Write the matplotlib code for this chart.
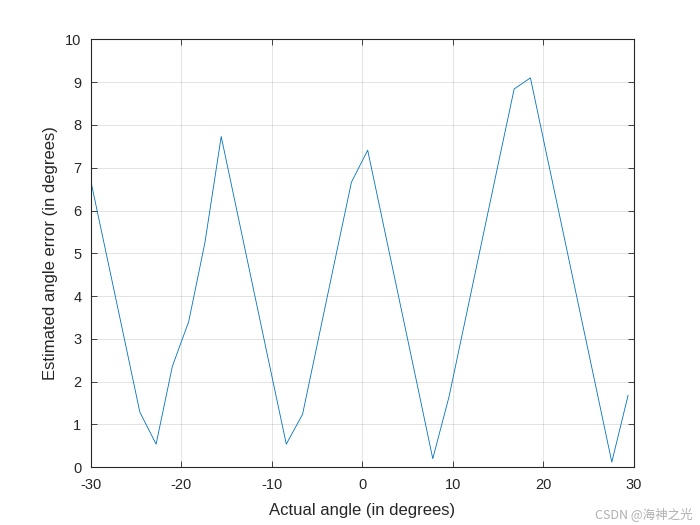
import numpy as np
import matplotlib
matplotlib.use("Agg")
import matplotlib.pyplot as plt

# actual angle grid (deg) and estimated error
angle = [-30.0, -28.2, -26.4, -24.6, -22.8, -21.0, -19.2, -17.4, -15.6, -13.8,
         -12.0, -10.2, -8.4, -6.6, -4.8, -3.0, -1.2, 0.6, 2.4, 4.2,
         6.0, 7.8, 9.6, 11.4, 13.2, 15.0, 16.8, 18.6, 20.4, 22.2,
         24.0, 25.8, 27.6, 29.4]
err = [6.67, 4.88, 3.09, 1.29, 0.54, 2.36, 3.40, 5.25, 7.73, 5.93,
       4.13, 2.33, 0.54, 1.24, 3.05, 4.86, 6.66, 7.41, 5.61, 3.81,
       2.01, 0.20, 1.65, 3.45, 5.25, 7.05, 8.84, 9.10, 7.30, 5.51,
       3.71, 1.92, 0.12, 1.68]

xticks = np.arange(-30, 31, 10)
yticks = np.arange(0, 11, 1)

plt.rcParams["font.family"] = ["Liberation Sans", "DejaVu Sans"]
plt.rcParams["axes.unicode_minus"] = False

fig = plt.figure(figsize=(7, 5.25), dpi=100)
ax = fig.add_axes([0.13, 0.11, 0.775, 0.815])
ax.plot(angle, err, color="#0072BD", linewidth=0.6)

ax.set_xlim(-30, 30)
ax.set_ylim(0, 10)
ax.set_xticks(xticks)
ax.set_yticks(yticks)
ax.grid(True, color="#262626", alpha=0.15, linewidth=0.6)
ax.set_axisbelow(True)
ax.tick_params(direction="in", top=True, right=True, length=4, width=0.6,
               labelsize=10.5, colors="#262626")
ax.tick_params(axis="x", pad=8)
ax.tick_params(axis="y", pad=7)
for s in ax.spines.values():
    s.set_color("#262626")
    s.set_linewidth(0.8)

ax.set_xlabel("Actual angle (in degrees)", fontsize=12, color="#262626", labelpad=8)
ax.set_ylabel("Estimated angle error (in degrees)", fontsize=12, color="#262626", labelpad=5)

fig.text(0.99, 0.02, "CSDN @海神之光", ha="right", va="center", fontsize=9,
         color="#b0b0b0", family=["Noto Sans CJK SC", "DejaVu Sans"])

fig.savefig("out.png", dpi=100)
